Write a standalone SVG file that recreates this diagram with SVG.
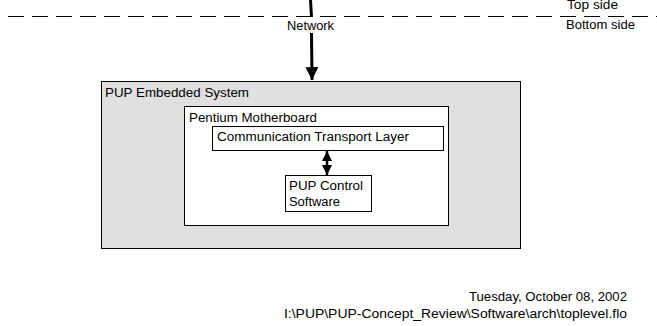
<svg xmlns="http://www.w3.org/2000/svg" width="657" height="326" viewBox="0 0 657 326">
<style>
text{font-family:"Liberation Sans",Arial,sans-serif;font-size:12px;fill:#000}
.box{stroke:#000;stroke-width:1}
.conn{stroke:#000;fill:none}
</style>
<defs>
<marker id="ah" viewBox="0 0 10 10" refX="10" refY="5" markerWidth="4.3" markerHeight="4.3" markerUnits="strokeWidth" orient="auto">
<path d="M0,0 L10,5 L0,10 z" fill="#000"/>
</marker>
<marker id="ah2" viewBox="0 0 10 10" refX="10" refY="5" markerWidth="4" markerHeight="4" markerUnits="strokeWidth" orient="auto-start-reverse">
<path d="M0,0 L10,5 L0,10 z" fill="#000"/>
</marker>
</defs>
<rect width="657" height="326" fill="#fff"/>
<g id="boundary">
<line x1="8" y1="16.5" x2="657" y2="16.5" stroke="#000" stroke-width="1" stroke-dasharray="16 8"/>
<text x="567" y="9" textLength="51" lengthAdjust="spacingAndGlyphs">Top side</text>
<text x="566" y="29" textLength="69" lengthAdjust="spacingAndGlyphs">Bottom side</text>
</g>
<g id="embedded">
<rect class="box" x="101.5" y="81.5" width="419" height="167" fill="#e0e0e0"/>
<text x="105" y="97" textLength="144" lengthAdjust="spacingAndGlyphs">PUP Embedded System</text>
</g>
<g id="motherboard">
<rect class="box" x="184.5" y="106.5" width="264" height="119" fill="#fff"/>
<text x="189" y="122" textLength="128" lengthAdjust="spacingAndGlyphs">Pentium Motherboard</text>
</g>
<g id="comm">
<rect class="box" x="212.5" y="126.5" width="231" height="24" fill="#fff"/>
<text x="217" y="141" textLength="192" lengthAdjust="spacingAndGlyphs">Communication Transport Layer</text>
</g>
<g id="control">
<rect class="box" x="285.5" y="175.5" width="86" height="36" fill="#fff"/>
<text x="289" y="190" textLength="74" lengthAdjust="spacingAndGlyphs">PUP Control</text>
<text x="289" y="206" textLength="51" lengthAdjust="spacingAndGlyphs">Software</text>
</g>
<g id="connectors">
<path class="conn" d="M310.5,0 L311.5,17" stroke-width="3"/>
<path class="conn" d="M311.5,33 L312,80" stroke-width="3" marker-end="url(#ah)"/>
<text x="310.5" y="30" text-anchor="middle" textLength="47" lengthAdjust="spacingAndGlyphs">Network</text>
<path class="conn" d="M327,151 L327,175" stroke-width="2.5" marker-start="url(#ah2)" marker-end="url(#ah2)"/>
</g>
<g id="footer">
<text x="627" y="301" text-anchor="end" textLength="158" lengthAdjust="spacingAndGlyphs">Tuesday, October 08, 2002</text>
<text x="627" y="318" text-anchor="end" textLength="343" lengthAdjust="spacingAndGlyphs">I:\PUP\PUP-Concept_Review\Software\arch\toplevel.flo</text>
</g>
</svg>
